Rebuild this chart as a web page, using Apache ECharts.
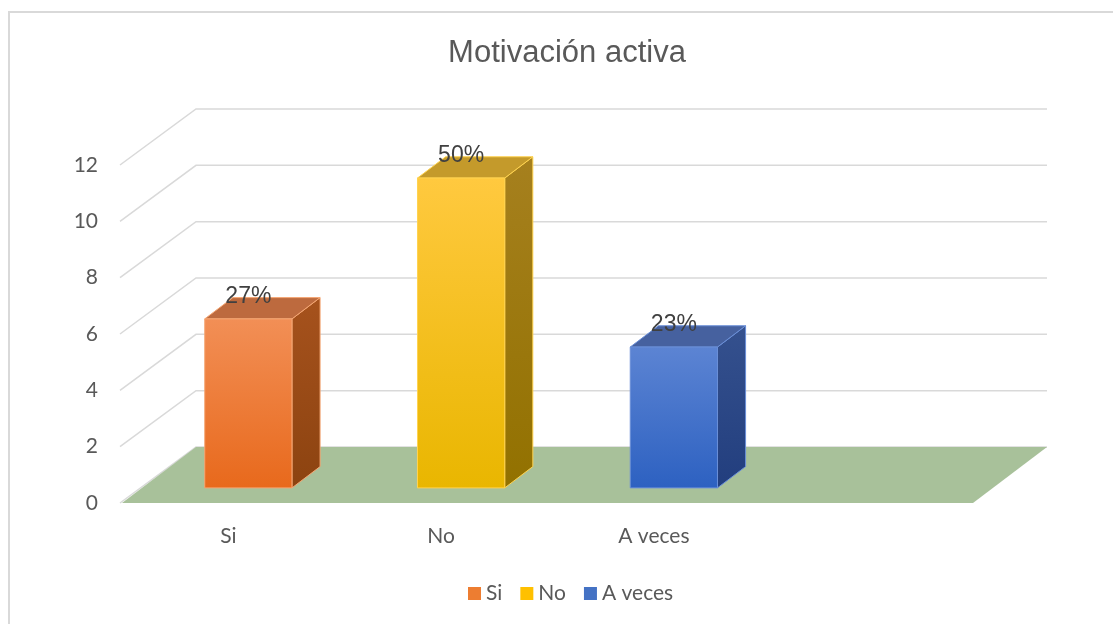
<!DOCTYPE html>
<html>
<head>
<meta charset="utf-8">
<script src="https://cdn.jsdelivr.net/npm/echarts@6/dist/echarts.min.js"></script>
<style>
  html, body { margin: 0; padding: 0; background: #ffffff; }
  #chart { width: 1113px; height: 624px; }
</style>
</head>
<body>
<div id="chart"></div>
<script>
// ---- data ----
const titleText = 'Motivación activa';
const categories = ['Si', 'No', 'A veces'];
const values = [6, 11, 5];
const percentLabels = ['27%', '50%', '23%'];
const yTicks = [0, 2, 4, 6, 8, 10, 12];
const seriesColors = ['#ED7D31', '#FFC000', '#4472C4'];

// ---- styles (3D projection + face shading) ----
const DEPTH_X = 74, DEPTH_Y = -56;      // floor depth vector in px
const BAR_FRONT = 0.27, BAR_BACK = 0.65; // bar depth position (fraction of floor depth)
const BAR_FRAC = 0.41;                   // bar width as fraction of category band
const faces = [
  { front: ['#F28F56', '#E8691C'], side: ['#A6521D', '#8C4310'], top: '#BD6A3E', edge: '#F5A673' },
  { front: ['#FFC93F', '#E9B600'], side: ['#A6801E', '#927100'], top: '#C49A2B', edge: '#FFD34F' },
  { front: ['#5C84D3', '#2D61C1'], side: ['#35518E', '#223E7E'], top: '#46619F', edge: '#6A8FD8' }
];
const textColor = '#595959';
const axisFont = 'Lato, "Noto Sans", sans-serif';
const titleFont = '"Liberation Sans", Arial, sans-serif';

const chart = echarts.init(document.getElementById('chart'), null, { renderer: 'canvas' });

function vGrad(c) {
  return new echarts.graphic.LinearGradient(0, 0, 0, 1, [
    { offset: 0, color: c[0] }, { offset: 1, color: c[1] }
  ]);
}

function makeBar(idx) {
  return function (params, api) {
    const ci = api.value(0), v = api.value(1);
    const base = api.coord([ci, 0]);
    const top = api.coord([ci, v]);
    const bw = api.size([1, 0])[0] * BAR_FRAC;
    const cx = base[0] + DEPTH_X * BAR_FRONT;
    const x1 = cx - bw / 2, x2 = cx + bw / 2;
    const yb = base[1] + DEPTH_Y * BAR_FRONT;
    const yt = top[1] + DEPTH_Y * BAR_FRONT;
    const sdx = DEPTH_X * (BAR_BACK - BAR_FRONT), sdy = DEPTH_Y * (BAR_BACK - BAR_FRONT);
    const f = faces[idx];
    return {
      type: 'group',
      children: [
        { type: 'polygon', shape: { points: [[x2, yt], [x2 + sdx, yt + sdy], [x2 + sdx, yb + sdy], [x2, yb]] },
          style: { fill: vGrad(f.side), stroke: f.edge, lineWidth: 1 } },
        { type: 'polygon', shape: { points: [[x1, yt], [x1 + sdx, yt + sdy], [x2 + sdx, yt + sdy], [x2, yt]] },
          style: { fill: f.top, stroke: f.edge, lineWidth: 1 } },
        { type: 'rect', shape: { x: x1, y: yt, width: bw, height: yb - yt },
          style: { fill: vGrad(f.front), stroke: f.edge, lineWidth: 1 } },
        { type: 'text', x: cx, y: yt + sdy - 1,
          style: { text: percentLabels[idx], fill: '#404040', font: '23px ' + titleFont,
                   align: 'center', verticalAlign: 'middle' } }
      ]
    };
  };
}

const xCats = categories.concat(['']);

const series = [
  {
    type: 'custom', name: '_grid', silent: true, clip: false, z: 1,
    data: yTicks.map(t => [0, t]),
    renderItem: function (params, api) {
      const cs = params.coordSys;
      const y = api.coord([0, api.value(1)])[1];
      return {
        type: 'polyline',
        shape: { points: [[cs.x - 2, y], [cs.x + DEPTH_X, y + DEPTH_Y], [cs.x + cs.width + DEPTH_X, y + DEPTH_Y]] },
        style: { stroke: '#D9D9D9', lineWidth: 1.5, fill: null }
      };
    }
  },
  {
    type: 'custom', name: '_floor', silent: true, clip: false, z: 2,
    data: [[0, 0]],
    renderItem: function (params, api) {
      const cs = params.coordSys;
      const y = api.coord([0, 0])[1];
      return {
        type: 'polygon',
        shape: { points: [[cs.x, y], [cs.x + cs.width, y], [cs.x + cs.width + DEPTH_X, y + DEPTH_Y], [cs.x + DEPTH_X, y + DEPTH_Y]] },
        style: { fill: '#A8C19A' }
      };
    }
  }
];
categories.forEach(function (c, i) {
  series.push({
    type: 'custom', name: c, clip: false, z: 3,
    itemStyle: { color: seriesColors[i] },
    data: [[i, values[i]]],
    renderItem: makeBar(i)
  });
});

chart.setOption({
  animation: false,
  backgroundColor: '#ffffff',
  graphic: [
    { type: 'rect', z: -10, shape: { x: 9, y: 12, width: 1200, height: 700 },
      style: { fill: '#ffffff', stroke: '#D9D9D9', lineWidth: 2 } },
    { type: 'text', x: 567, y: 53,
      style: { text: titleText, fill: textColor, font: '31px ' + titleFont, align: 'center', verticalAlign: 'middle' } }
  ],
  legend: {
    data: categories,
    left: 468, top: 583, padding: 0,
    icon: 'rect', itemWidth: 13, itemHeight: 13, itemGap: 18,
    textStyle: { color: textColor, fontSize: 21, fontFamily: axisFont }
  },
  grid: { left: 122, right: 140, top: 165, bottom: 121 },
  xAxis: {
    type: 'category', data: xCats,
    axisLine: { show: false }, axisTick: { show: false }, splitLine: { show: false },
    axisLabel: { color: textColor, fontSize: 21, fontFamily: axisFont, margin: 23, interval: 0 }
  },
  yAxis: {
    type: 'value', min: 0, max: 12, interval: 2,
    axisLine: { show: false }, axisTick: { show: false }, splitLine: { show: false },
    axisLabel: { color: textColor, fontSize: 21, fontFamily: axisFont, margin: 24 }
  },
  series: series
});
</script>
</body>
</html>
